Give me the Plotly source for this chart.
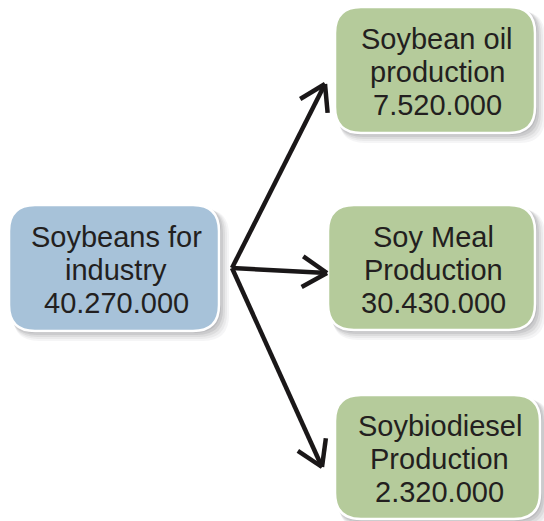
import math
import plotly.graph_objects as go

# ---- data ----
node_titles = [["Soybeans for", "industry"], ["Soybean oil", "production"], ["Soy Meal", "Production"], ["Soybiodiesel", "Production"]]
node_values = [40270000, 7520000, 30430000, 2320000]
node_colors = ["#A7C2D9", "#B5CB9B", "#B5CB9B", "#B5CB9B"]

# ---- layout (pixel space) ----
W, H = 544, 521
boxes = [  # x0, y0, x1, y1
    (9, 205, 219, 331),
    (335, 7, 535, 133),
    (328, 205, 535, 330),
    (335, 395, 540, 519),
]
arrow_start = (232, 268)
arrow_ends = [(325, 84), (327, 273), (322, 467)]
R = 26
LINE_GAP = 33


def fmt(v):
    return f"{v:,}".replace(",", ".")


def rrect(x0, y0, x1, y1, r):
    return (f"M{x0+r},{y0} L{x1-r},{y0} Q{x1},{y0} {x1},{y0+r} L{x1},{y1-r} "
            f"Q{x1},{y1} {x1-r},{y1} L{x0+r},{y1} Q{x0},{y1} {x0},{y1-r} "
            f"L{x0},{y0+r} Q{x0},{y0} {x0+r},{y0} Z")


shapes = []
annotations = []
for (x0, y0, x1, y1), col, title, val in zip(boxes, node_colors, node_titles, node_values):
    # soft shadow
    for k, op in [(10, 0.05), (8, 0.06), (6, 0.08), (4, 0.10), (2, 0.10)]:
        shapes.append(dict(type="path", path=rrect(x0 + k * 0.4, y0 + k * 0.4, x1 + k, y1 + k, R),
                           fillcolor=f"rgba(60,60,70,{op})", line=dict(width=0), layer="below"))
    shapes.append(dict(type="path", path=rrect(x0, y0, x1, y1, R), fillcolor=col,
                       line=dict(color="white", width=2.5)))
    lines = title + [fmt(val)]
    cx, cy = (x0 + x1) / 2 + 2, (y0 + y1) / 2 + 2
    for i, ln in enumerate(lines):
        annotations.append(dict(x=cx, y=cy + (i - 1) * LINE_GAP, xref="x", yref="y",
                                text=ln, showarrow=False,
                                font=dict(family="Liberation Sans, Arial", size=29, color="#231F20"),
                                align="center"))

# arrows
sx, sy = arrow_start
for ex, ey in arrow_ends:
    shapes.append(dict(type="line", x0=sx, y0=sy, x1=ex, y1=ey, line=dict(color="#1A1718", width=4.5)))
    ang = math.atan2(ey - sy, ex - sx)
    L = 29
    for d in (math.radians(32), -math.radians(32)):
        a = ang + math.pi + d
        shapes.append(dict(type="line", x0=ex, y0=ey, x1=ex + L * math.cos(a), y1=ey + L * math.sin(a),
                           line=dict(color="#1A1718", width=4.5)))

fig = go.Figure()
fig.update_layout(
    width=W, height=H, margin=dict(l=0, r=0, t=0, b=0),
    paper_bgcolor="white", plot_bgcolor="white",
    xaxis=dict(range=[0, W], visible=False, fixedrange=True),
    yaxis=dict(range=[H, 0], visible=False, fixedrange=True),
    shapes=shapes, annotations=annotations, showlegend=False,
)
fig.write_html("out.html", config={"displayModeBar": False},
               post_script="document.body.style.margin='0';document.body.style.overflow='hidden';")
